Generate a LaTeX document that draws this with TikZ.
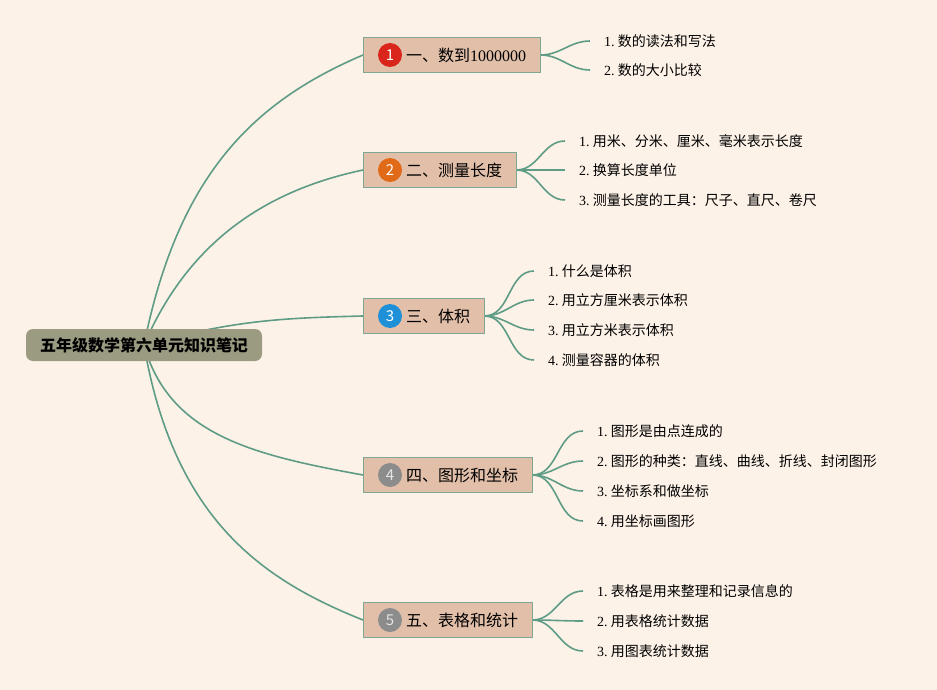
\documentclass[tikz,border=0pt]{standalone}
\usepackage{fontspec}
\setmainfont{Noto Sans CJK SC}
\newfontfamily\serifnum{Liberation Serif}
\usetikzlibrary{positioning}
\pgfdeclarelayer{bg}
\pgfdeclarelayer{edges}
\pgfsetlayers{bg,edges,main}

\definecolor{paper}{HTML}{FDF2E8}
\definecolor{rootfill}{HTML}{9B9B82}
\definecolor{branchfill}{HTML}{E2BFA9}
\definecolor{branchline}{HTML}{7FA593}
\definecolor{linkcol}{HTML}{5F9C86}
\definecolor{numred}{HTML}{D9251B}
\definecolor{numorange}{HTML}{E06A17}
\definecolor{numblue}{HTML}{1E90D8}
\definecolor{numgray}{HTML}{8C8C8C}

\tikzset{
	root/.style={fill=rootfill, rounded corners=7pt, minimum width=236pt, minimum height=32pt, inner sep=0pt, font=\fontsize{16}{18}\selectfont\bfseries},
	branch/.style={draw=branchline, fill=branchfill, anchor=west, minimum height=35pt, inner xsep=14pt, inner ysep=0pt, font=\fontsize{16}{18}\selectfont},
	num/.style={circle, minimum size=24pt, inner sep=0pt, text=white, font=\fontsize{15}{16}\selectfont},
	leaf/.style={anchor=west, inner xsep=14pt, inner ysep=2pt, font=\fontsize{14}{16}\selectfont},
	link/.style={draw=linkcol, line width=1.6pt},
}
\newcommand{\no}[1]{{\serifnum #1.}\ }

\begin{document}
\begin{tikzpicture}[x=1pt, y=-1pt]
	\useasboundingbox (0,0) rectangle (937,690);
	\begin{pgfonlayer}{bg}
		\fill[paper] (0,0) rectangle (937,690);
	\end{pgfonlayer}

	\node[root] (root) at (144,345) {五年级数学第六单元知识笔记};

	% Branch 1
	\node[branch] (b1) at (363,55) {\hspace*{29pt}一、数到{\serifnum 1000000}};
	\node[num, fill=numred] (n1) at ([xshift=27pt]b1.west) {1};
	\node[leaf] (l11) at (590,41) {\no{1}数的读法和写法};
	\node[leaf] (l12) at (590,70) {\no{2}数的大小比较};

	% Branch 2
	\node[branch] (b2) at (363,170) {\hspace*{29pt}二、测量长度};
	\node[num, fill=numorange] (n2) at ([xshift=27pt]b2.west) {2};
	\node[leaf] (l21) at (565,141) {\no{1}用米、分米、厘米、毫米表示长度};
	\node[leaf] (l22) at (565,170) {\no{2}换算长度单位};
	\node[leaf] (l23) at (565,200) {\no{3}测量长度的工具：尺子、直尺、卷尺};

	% Branch 3
	\node[branch] (b3) at (363,316) {\hspace*{29pt}三、体积};
	\node[num, fill=numblue] (n3) at ([xshift=27pt]b3.west) {3};
	\node[leaf] (l31) at (534,271) {\no{1}什么是体积};
	\node[leaf] (l32) at (534,300) {\no{2}用立方厘米表示体积};
	\node[leaf] (l33) at (534,330) {\no{3}用立方米表示体积};
	\node[leaf] (l34) at (534,360) {\no{4}测量容器的体积};

	% Branch 4
	\node[branch] (b4) at (363,475) {\hspace*{29pt}四、图形和坐标};
	\node[num, fill=numgray, text=white!80!gray] (n4) at ([xshift=27pt]b4.west) {4};
	\node[leaf] (l41) at (583,431) {\no{1}图形是由点连成的};
	\node[leaf] (l42) at (583,461) {\no{2}图形的种类：直线、曲线、折线、封闭图形};
	\node[leaf] (l43) at (583,491) {\no{3}坐标系和做坐标};
	\node[leaf] (l44) at (583,521) {\no{4}用坐标画图形};

	% Branch 5
	\node[branch] (b5) at (363,620) {\hspace*{29pt}五、表格和统计};
	\node[num, fill=numgray, text=white!80!gray] (n5) at ([xshift=27pt]b5.west) {5};
	\node[leaf] (l51) at (583,591) {\no{1}表格是用来整理和记录信息的};
	\node[leaf] (l52) at (583,621) {\no{2}用表格统计数据};
	\node[leaf] (l53) at (583,651) {\no{3}用图表统计数据};

	% connectors
	\begin{pgfonlayer}{edges}
		\draw[link] (root.center) .. controls +(35,-175) and +(-105,45) .. (b1.west);
		\draw[link] (root.center) .. controls +(45,-105) and +(-95,20) .. (b2.west);
		\draw[link] (root.center) .. controls +(90,-25) and +(-80,2) .. (b3.west);
		\draw[link] (root.center) .. controls +(25,90) and +(-110,-20) .. (b4.west);
		\draw[link] (root.center) .. controls +(30,175) and +(-100,-40) .. (b5.west);

		\foreach \i in {1,2} \draw[link] (b1.east) to[out=0,in=180] (l1\i.west);
		\foreach \i in {1,2,3} \draw[link] (b2.east) to[out=0,in=180] (l2\i.west);
		\foreach \i in {1,...,4} \draw[link] (b3.east) to[out=0,in=180] (l3\i.west);
		\foreach \i in {1,...,4} \draw[link] (b4.east) to[out=0,in=180] (l4\i.west);
		\foreach \i in {1,2,3} \draw[link] (b5.east) to[out=0,in=180] (l5\i.west);
	\end{pgfonlayer}
\end{tikzpicture}
\end{document}
